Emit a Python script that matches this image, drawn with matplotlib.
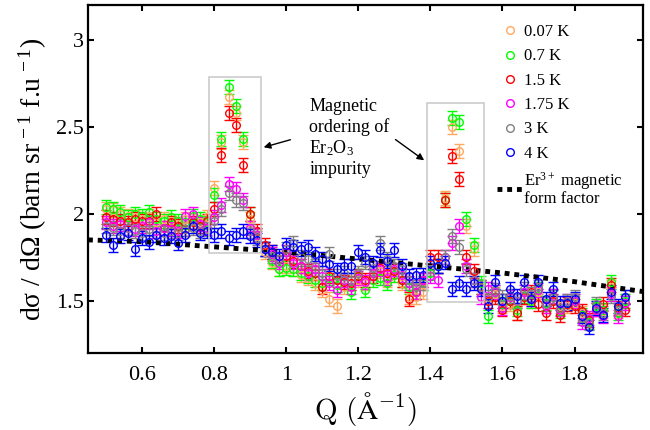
import matplotlib
matplotlib.use('Agg')
import matplotlib.pyplot as plt
from matplotlib.lines import Line2D
from matplotlib.patches import Rectangle

plt.rcParams['font.family'] = ['Liberation Serif', 'DejaVu Serif']
plt.rcParams['mathtext.fontset'] = 'custom'
plt.rcParams['mathtext.rm'] = 'Liberation Serif'
plt.rcParams['mathtext.it'] = 'Liberation Serif:italic'

# Q grid (1/A)
Q = [0.50, 0.52, 0.54, 0.56, 0.58, 0.60, 0.62, 0.64, 0.66, 0.68,
     0.70, 0.72, 0.74, 0.76, 0.78, 0.80, 0.82, 0.84, 0.86, 0.88,
     0.90, 0.92, 0.94, 0.96, 0.98, 1.00, 1.02, 1.04, 1.06, 1.08,
     1.10, 1.12, 1.14, 1.16, 1.18, 1.20, 1.22, 1.24, 1.26, 1.28,
     1.30, 1.32, 1.34, 1.36, 1.38, 1.40, 1.42, 1.44, 1.46, 1.48,
     1.50, 1.52, 1.54, 1.56, 1.58, 1.60, 1.62, 1.64, 1.66, 1.68,
     1.70, 1.72, 1.74, 1.76, 1.78, 1.80, 1.82, 1.84, 1.86, 1.88,
     1.90, 1.92, 1.94]

y_007K = [2.03, 2.02, 2.00, 1.99, 1.98, 1.97, 1.99, 1.95, 1.97, 1.96, 1.94, 1.97, 1.96, 1.95, 1.98,
          2.15, 2.41, 2.67, 2.58, 2.41, 1.97, 1.87, 1.78, 1.72, 1.68,
          1.70, 1.68, 1.65, 1.63, 1.60, 1.56, 1.51, 1.47, 1.58, 1.60,
          1.62, 1.60, 1.66, 1.67, 1.62, 1.65, 1.60, 1.52, 1.52, 1.55,
          1.68, 1.70, 2.09, 2.50, 2.36, 1.93, 1.80, 1.58, 1.50, 1.54,
          1.47, 1.48, 1.43, 1.52, 1.50, 1.55, 1.48, 1.53, 1.47, 1.47,
          1.49, 1.43, 1.38, 1.46, 1.44, 1.58, 1.44, 1.50]
y_07K = [2.04, 2.03, 2.01, 1.98, 2.00, 1.99, 2.01, 1.97, 1.96, 1.98, 1.96, 1.95, 1.99, 1.97, 1.95,
         2.11, 2.43, 2.73, 2.62, 2.43, 2.00, 1.88, 1.80, 1.73, 1.68,
         1.69, 1.68, 1.66, 1.64, 1.62, 1.60, 1.63, 1.59, 1.62, 1.55,
         1.64, 1.56, 1.62, 1.63, 1.60, 1.65, 1.62, 1.58, 1.55, 1.60,
         1.66, 1.70, 2.08, 2.55, 2.53, 1.97, 1.82, 1.60, 1.41, 1.55,
         1.48, 1.50, 1.45, 1.53, 1.50, 1.57, 1.49, 1.52, 1.44, 1.49,
         1.50, 1.42, 1.38, 1.47, 1.45, 1.61, 1.43, 1.50]
y_15K = [1.98, 1.97, 1.96, 1.95, 1.97, 1.96, 1.96, 2.00, 1.92, 1.95, 1.93, 1.91, 1.95, 1.93, 1.96,
         2.03, 2.34, 2.58, 2.51, 2.28, 2.00, 1.90, 1.82, 1.78, 1.74,
         1.76, 1.73, 1.70, 1.67, 1.66, 1.58, 1.64, 1.62, 1.61, 1.60,
         1.64, 1.62, 1.64, 1.69, 1.66, 1.67, 1.62, 1.51, 1.55, 1.62,
         1.75, 1.75, 2.08, 2.33, 2.20, 1.75, 1.67, 1.58, 1.50, 1.52,
         1.45, 1.50, 1.43, 1.52, 1.55, 1.48, 1.43, 1.50, 1.42, 1.48,
         1.47, 1.44, 1.39, 1.45, 1.48, 1.59, 1.46, 1.45]
y_175K = [1.95, 1.93, 1.94, 1.92, 1.91, 1.93, 1.95, 1.90, 1.92, 1.91, 1.90, 1.99, 2.00, 1.94, 1.92,
          1.98, 2.05, 2.17, 2.14, 2.08, 1.92, 1.88, 1.80, 1.77, 1.72,
          1.78, 1.72, 1.70, 1.66, 1.68, 1.64, 1.60, 1.56, 1.62, 1.58,
          1.63, 1.61, 1.66, 1.68, 1.63, 1.68, 1.65, 1.60, 1.55, 1.62,
          1.64, 1.62, 1.75, 1.83, 1.93, 1.70, 1.62, 1.52, 1.57, 1.55,
          1.46, 1.52, 1.50, 1.55, 1.51, 1.56, 1.47, 1.53, 1.45, 1.50,
          1.50, 1.38, 1.40, 1.45, 1.41, 1.54, 1.41, 1.49]
y_3K = [1.93, 1.92, 1.90, 1.92, 1.90, 1.89, 1.91, 1.88, 1.89, 1.90, 1.89, 1.91, 1.92, 1.90, 1.91,
        1.96, 2.03, 2.12, 2.08, 2.06, 1.90, 1.86, 1.80, 1.76, 1.74,
        1.80, 1.83, 1.75, 1.74, 1.70, 1.66, 1.77, 1.64, 1.66, 1.62,
        1.66, 1.72, 1.69, 1.83, 1.74, 1.70, 1.68, 1.62, 1.58, 1.60,
        1.68, 1.70, 1.75, 1.87, 1.81, 1.68, 1.62, 1.58, 1.52, 1.56,
        1.52, 1.53, 1.50, 1.57, 1.54, 1.58, 1.48, 1.52, 1.46, 1.50,
        1.52, 1.40, 1.37, 1.48, 1.43, 1.53, 1.45, 1.52]
y_4K = [1.88, 1.82, 1.87, 1.89, 1.80, 1.86, 1.84, 1.88, 1.86, 1.87, 1.83, 1.88, 1.93, 1.89, 1.90,
        1.88, 1.90, 1.86, 1.88, 1.90, 1.87, 1.85, 1.80, 1.78, 1.76,
        1.82, 1.81, 1.80, 1.81, 1.77, 1.74, 1.71, 1.68, 1.70, 1.70,
        1.78, 1.75, 1.72, 1.79, 1.73, 1.79, 1.70, 1.64, 1.65, 1.65,
        1.72, 1.70, 1.72, 1.57, 1.60, 1.57, 1.60, 1.57, 1.47, 1.61,
        1.50, 1.57, 1.53, 1.61, 1.51, 1.61, 1.51, 1.57, 1.49, 1.49,
        1.51, 1.41, 1.35, 1.46, 1.42, 1.55, 1.47, 1.52]

series = [y_007K, y_07K, y_15K, y_175K, y_3K, y_4K]
labels = ['0.07 K', '0.7 K', '1.5 K', '1.75 K', '3 K', '4 K']
colors = ['#FFA860', '#00FF00', '#FF0000', '#FF00FF', '#808080', '#0000FF']
errors = [0.04, 0.04, 0.04, 0.04, 0.04, 0.04]

# Er3+ magnetic form factor
Q_ff = [0.45, 0.60, 0.80, 1.00, 1.20, 1.40, 1.60, 1.80, 2.00]
y_ff = [1.85, 1.84, 1.81, 1.78, 1.74, 1.70, 1.66, 1.61, 1.55]

fig = plt.figure(figsize=(6.5, 4.3), dpi=100)
ax = fig.add_axes([88 / 650, 77 / 430, 555 / 650, 348 / 430])

for y, c, e in zip(series, colors, errors):
    ax.errorbar(Q, y, yerr=e, fmt='o', mfc='none', mec=c, ecolor=c, ms=5.5, mew=1,
                elinewidth=1, capsize=3.5, capthick=1)

ax.plot(Q_ff, y_ff, color='black', lw=3.5, ls=(0, (1, 1)), dash_capstyle='butt')

# boxes around the Er2O3 peaks
ax.add_patch(Rectangle((0.786, 1.775), 0.93 - 0.786, 2.786 - 1.775, fill=False,
                       ec='#C8C8C8', lw=1.1, zorder=5))
ax.add_patch(Rectangle((1.392, 1.493), 1.55 - 1.392, 2.637 - 1.493, fill=False,
                       ec='#C8C8C8', lw=1.1, zorder=5))

ax.text(1.064, 2.665, 'Magnetic\nordering of\nEr$_2$O$_3$\nimpurity', fontsize=13,
        ha='left', va='top', linespacing=1.2)
ax.annotate('', xy=(0.93, 2.378), xytext=(1.019, 2.43),
            arrowprops=dict(arrowstyle='-|>', color='black', lw=1, mutation_scale=10))
ax.annotate('', xy=(1.389, 2.298), xytext=(1.297, 2.436),
            arrowprops=dict(arrowstyle='-|>', color='black', lw=1, mutation_scale=10))

ax.set_xlim(0.45, 1.99)
ax.set_ylim(1.2, 3.2)
ax.set_xticks([0.6, 0.8, 1.0, 1.2, 1.4, 1.6, 1.8])
ax.set_xticklabels(['0.6', '0.8', '1', '1.2', '1.4', '1.6', '1.8'])
ax.set_yticks([1.5, 2.0, 2.5, 3.0])
ax.set_yticklabels(['1.5', '2', '2.5', '3'])
ax.tick_params(direction='in', length=4, width=1.5, labelsize=16, top=True, right=True)
ax.tick_params(axis='x', pad=9)
ax.tick_params(axis='y', pad=3)
for s in ax.spines.values():
    s.set_linewidth(1.6)

ax.set_xlabel(r'$\mathrm{Q\ (\AA^{-1})}$', fontsize=21, math_fontfamily='cm', labelpad=4)
ax.set_ylabel('dσ / dΩ (barn sr$^{\\,-1}$ f.u$^{\\,-1}$)', fontsize=20, labelpad=5)

handles = [Line2D([], [], ls='none', marker='o', mfc='none', mec=c, ms=5.5, mew=1)
           for c in colors]
handles.append(Line2D([], [], color='black', lw=3.5, ls=(0, (1, 1)), dash_capstyle='butt'))
leg = ax.legend(handles, labels + ['Er$^{3+}$ magnetic\nform factor'], loc='upper left',
                bbox_to_anchor=(0.737, 0.945), frameon=False, fontsize=12, borderpad=0,
                borderaxespad=0, handlelength=1.5, handletextpad=0.1, labelspacing=0.5)
leg.get_texts()[-1].set_linespacing(0.95)

fig.savefig('out.png', dpi=100)
